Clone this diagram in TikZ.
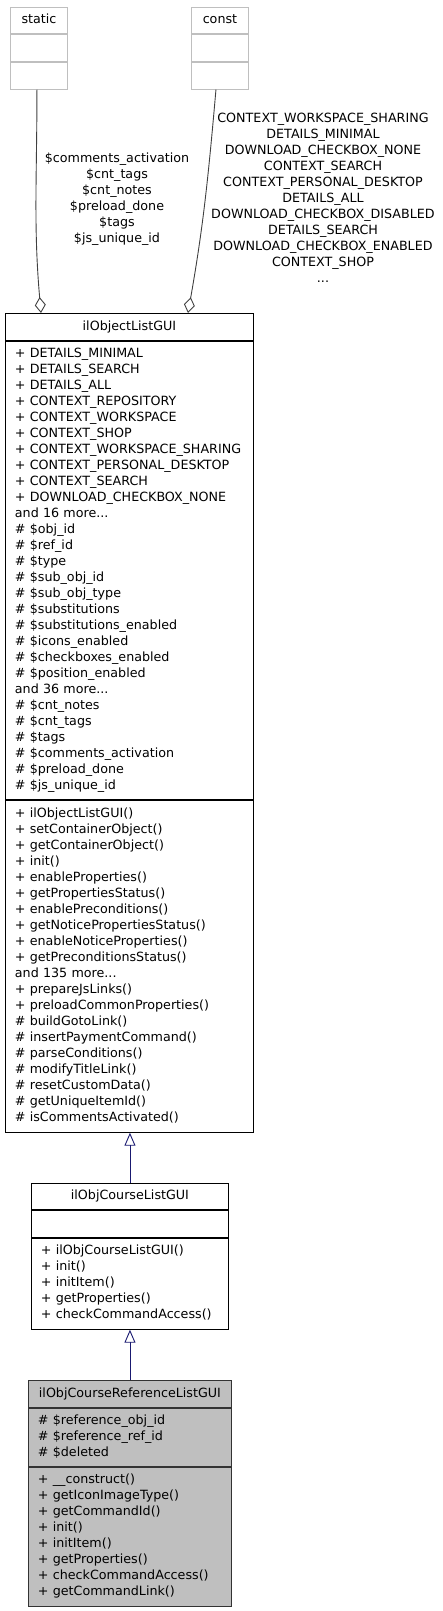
\documentclass[tikz,border=0pt]{standalone}
\usepackage{fontspec}
\setmainfont{DejaVu Sans}
\usetikzlibrary{arrows.meta, positioning, calc}

\definecolor{edgegray}{HTML}{404040}
\definecolor{boxgray}{HTML}{BFBFBF}
\definecolor{inheritblue}{HTML}{191970}

\begin{document}
\begin{tikzpicture}[
    x=1pt, y=-1pt,
    every node/.style={font=\fontsize{12.7}{16}\selectfont},
    % --- Class compartments ---
    compartment/.style={
      draw, line width=0.9pt, anchor=north west,
      inner xsep=9.5pt, inner ysep=0pt, align=left,
      execute at begin node=\strut, execute at end node=\strut,
    },
    title/.style={align=center},
    stub/.style={compartment, draw=boxgray},
    current/.style={compartment, fill=boxgray, draw=black!80},
    % Widths of the class boxes
    stub width/.style={minimum width=57pt, text width=38pt},
    parent width/.style={minimum width=248pt, text width=229pt},
    child width/.style={minimum width=197pt, text width=178pt},
    leaf width/.style={minimum width=203pt, text width=184pt},
    % --- Connector styles ---
    aggregation/.style={-{Diamond[open, length=16pt, width=11pt]},
                        draw=edgegray, line width=0.9pt},
    inheritance/.style={-{Triangle[open, length=13pt, width=11pt]},
                        draw=inheritblue, line width=0.9pt},
    % --- Label style ---
    lbl/.style={align=center, inner sep=0pt,
                execute at begin node=\strut, execute at end node=\strut},
  ]
  \useasboundingbox (0,0) rectangle (443,1611);

  %% ---- Stub classes (top) ----

  % static
  \node[stub, stub width, title, minimum height=26pt] (static) at (10,7) {static};
  \node[stub, stub width, minimum height=27pt] (static-attr) at (static.south west) {};
  \node[stub, stub width, minimum height=27pt] (static-ops) at (static-attr.south west) {};

  % const
  \node[stub, stub width, title, minimum height=26pt] (const) at (191,7) {const};
  \node[stub, stub width, minimum height=27pt] (const-attr) at (const.south west) {};
  \node[stub, stub width, minimum height=27pt] (const-ops) at (const-attr.south west) {};

  %% ---- ilObjectListGUI ----

  \node[compartment, parent width, title, minimum height=27pt] (objlist) at (5,313)
    {ilObjectListGUI};
  \node[compartment, parent width, minimum height=458pt] (objlist-attr) at (objlist.south west)
    {+ DETAILS\_MINIMAL\\
     + DETAILS\_SEARCH\\
     + DETAILS\_ALL\\
     + CONTEXT\_REPOSITORY\\
     + CONTEXT\_WORKSPACE\\
     + CONTEXT\_SHOP\\
     + CONTEXT\_WORKSPACE\_SHARING\\
     + CONTEXT\_PERSONAL\_DESKTOP\\
     + CONTEXT\_SEARCH\\
     + DOWNLOAD\_CHECKBOX\_NONE\\
     and 16 more...\\
     \# \$obj\_id\\
     \# \$ref\_id\\
     \# \$type\\
     \# \$sub\_obj\_id\\
     \# \$sub\_obj\_type\\
     \# \$substitutions\\
     \# \$substitutions\_enabled\\
     \# \$icons\_enabled\\
     \# \$checkboxes\_enabled\\
     \# \$position\_enabled\\
     and 36 more...\\
     \# \$cnt\_notes\\
     \# \$cnt\_tags\\
     \# \$tags\\
     \# \$comments\_activation\\
     \# \$preload\_done\\
     \# \$js\_unique\_id};
  \node[compartment, parent width, minimum height=332pt] (objlist-ops) at (objlist-attr.south west)
    {+ ilObjectListGUI()\\
     + setContainerObject()\\
     + getContainerObject()\\
     + init()\\
     + enableProperties()\\
     + getPropertiesStatus()\\
     + enablePreconditions()\\
     + getNoticePropertiesStatus()\\
     + enableNoticeProperties()\\
     + getPreconditionsStatus()\\
     and 135 more...\\
     + prepareJsLinks()\\
     + preloadCommonProperties()\\
     \# buildGotoLink()\\
     \# insertPaymentCommand()\\
     \# parseConditions()\\
     \# modifyTitleLink()\\
     \# resetCustomData()\\
     \# getUniqueItemId()\\
     \# isCommentsActivated()};

  %% ---- ilObjCourseListGUI ----

  \node[compartment, child width, title, minimum height=26pt] (courselist) at (31,1183)
    {ilObjCourseListGUI};
  \node[compartment, child width, minimum height=27pt] (courselist-attr) at (courselist.south west) {};
  \node[compartment, child width, minimum height=91pt] (courselist-ops) at (courselist-attr.south west)
    {+ ilObjCourseListGUI()\\
     + init()\\
     + initItem()\\
     + getProperties()\\
     + checkCommandAccess()};

  %% ---- ilObjCourseReferenceListGUI (highlighted) ----

  \node[current, leaf width, title, minimum height=27pt] (reflist) at (28,1380)
    {ilObjCourseReferenceListGUI};
  \node[current, leaf width, minimum height=58pt] (reflist-attr) at (reflist.south west)
    {\# \$reference\_obj\_id\\
     \# \$reference\_ref\_id\\
     \# \$deleted};
  \node[current, leaf width, minimum height=139pt] (reflist-ops) at (reflist-attr.south west)
    {+ \_\_construct()\\
     + getIconImageType()\\
     + getCommandId()\\
     + init()\\
     + initItem()\\
     + getProperties()\\
     + checkCommandAccess()\\
     + getCommandLink()};

  %% ---- Connectors ----

  \draw[aggregation] ($(static-ops.south)+(-2,0)$) to[out=-90, in=95]
    ($(objlist.north west)+(36,0)$);
  \draw[aggregation] ($(const-ops.south)+(-4,0)$) to[out=-95, in=80]
    ($(objlist.north west)+(183,0)$);
  \draw[inheritance] (courselist.north) -- (courselist.north |- objlist-ops.south);
  \draw[inheritance] (reflist.north) -- (reflist.north |- courselist-ops.south);

  %% ---- Labels ----

  \node[lbl] (static-lbl) at (117,200)
    {\$comments\_activation\\
     \$cnt\_tags\\
     \$cnt\_notes\\
     \$preload\_done\\
     \$tags\\
     \$js\_unique\_id};
  \node[lbl] (const-lbl) at (323,200)
    {CONTEXT\_WORKSPACE\_SHARING\\
     DETAILS\_MINIMAL\\
     DOWNLOAD\_CHECKBOX\_NONE\\
     CONTEXT\_SEARCH\\
     CONTEXT\_PERSONAL\_DESKTOP\\
     DETAILS\_ALL\\
     DOWNLOAD\_CHECKBOX\_DISABLED\\
     DETAILS\_SEARCH\\
     DOWNLOAD\_CHECKBOX\_ENABLED\\
     CONTEXT\_SHOP\\
     ...};

\end{tikzpicture}
\end{document}
